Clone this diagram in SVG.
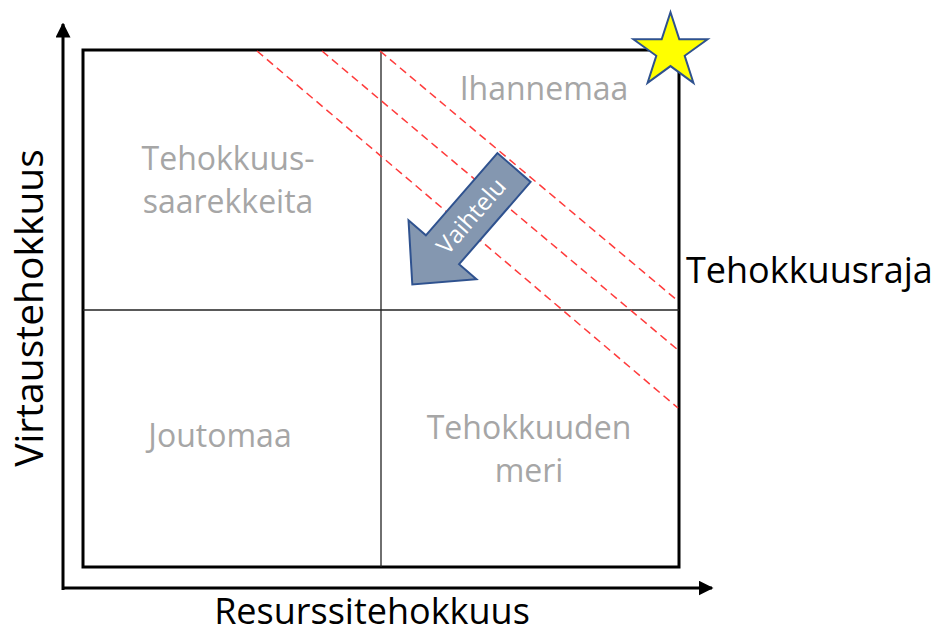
<svg xmlns="http://www.w3.org/2000/svg" width="935" height="637" viewBox="0 0 935 637">
  <defs>
    <marker id="axisHead" viewBox="0 0 10 10" refX="9" refY="5" markerWidth="5" markerHeight="5" orient="auto" markerUnits="strokeWidth">
      <path d="M0,0 L10,5 L0,10 Z" fill="#000"/>
    </marker>
    <style>
      .axis { stroke: #000; stroke-width: 3; fill: none; }
      .frame { stroke: #000; stroke-width: 3; fill: #fff; }
      .divider { stroke: #222; stroke-width: 1.3; }
      .frontier { stroke: #ff3b3b; stroke-width: 1.5; stroke-dasharray: 8 5; fill: none; }
      .zone { font-family: "Open Sans", "Liberation Sans", sans-serif; font-size: 32px; fill: #a6a6a6; text-anchor: middle; }
      .axisLabel { font-family: "Open Sans", "Liberation Sans", sans-serif; font-size: 36px; fill: #000; }
      .shift { fill: #8497b0; stroke: #2f528f; stroke-width: 2; stroke-linejoin: miter; }
      .shiftText { font-family: "Open Sans", "Liberation Sans", sans-serif; font-size: 24px; fill: #fff; text-anchor: middle; }
    </style>
  </defs>

  <rect width="935" height="637" fill="#fff"/>

  <!-- matrix frame and quadrant dividers -->
  <g id="matrix">
    <rect class="frame" x="83" y="50" width="596" height="517"/>
    <line class="divider" x1="83" y1="310" x2="679" y2="310"/>
    <line class="divider" x1="381" y1="50" x2="381" y2="567"/>
  </g>

  <!-- axes and efficiency frontier lines -->
  <g id="connectors">
    <line class="axis" x1="63" y1="590" x2="63" y2="24" marker-end="url(#axisHead)"/>
    <line class="axis" x1="62" y1="588" x2="712" y2="588" marker-end="url(#axisHead)"/>
    <line class="frontier" x1="257" y1="51" x2="678" y2="408"/>
    <line class="frontier" x1="322" y1="51" x2="678" y2="350"/>
    <line class="frontier" x1="380" y1="51" x2="678" y2="301"/>
  </g>

  <!-- quadrant labels -->
  <g id="ihannemaa">
    <text class="zone" x="544" y="100">Ihannemaa</text>
  </g>
  <g id="tehokkuussaarekkeita">
    <text class="zone" x="228" y="170">Tehokkuus-</text>
    <text class="zone" x="228" y="213">saarekkeita</text>
  </g>
  <g id="joutomaa">
    <text class="zone" x="220" y="447">Joutomaa</text>
  </g>
  <g id="tehokkuudenmeri">
    <text class="zone" x="529" y="439">Tehokkuuden</text>
    <text class="zone" x="529" y="482">meri</text>
  </g>

  <!-- variation arrow -->
  <g id="vaihtelu">
    <polygon class="shift" transform="translate(514,167.5) rotate(131)" points="0,-22 109,-22 109,-45 155,0 109,45 109,22 0,22"/>
    <text class="shiftText" transform="translate(471,216) rotate(-49)" y="8.5">Vaihtelu</text>
  </g>

  <!-- ideal corner star -->
  <g id="star">
    <polygon points="670.5,12.2 679.3,39.2 707.6,39.2 684.7,55.8 693.4,82.8 670.5,66.1 647.6,82.8 656.3,55.8 633.4,39.2 661.7,39.2" fill="#ffff00" stroke="#2f528f" stroke-width="2" stroke-linejoin="miter"/>
  </g>

  <!-- axis and frontier labels -->
  <g id="tehokkuusraja">
    <text class="axisLabel" x="686" y="283">Tehokkuusraja</text>
  </g>
  <g id="resurssitehokkuus">
    <text class="axisLabel" x="372" y="624" text-anchor="middle">Resurssitehokkuus</text>
  </g>
  <g id="virtaustehokkuus">
    <text class="axisLabel" transform="translate(43,308) rotate(-90)" text-anchor="middle" style="font-size:39px">Virtaustehokkuus</text>
  </g>
</svg>
